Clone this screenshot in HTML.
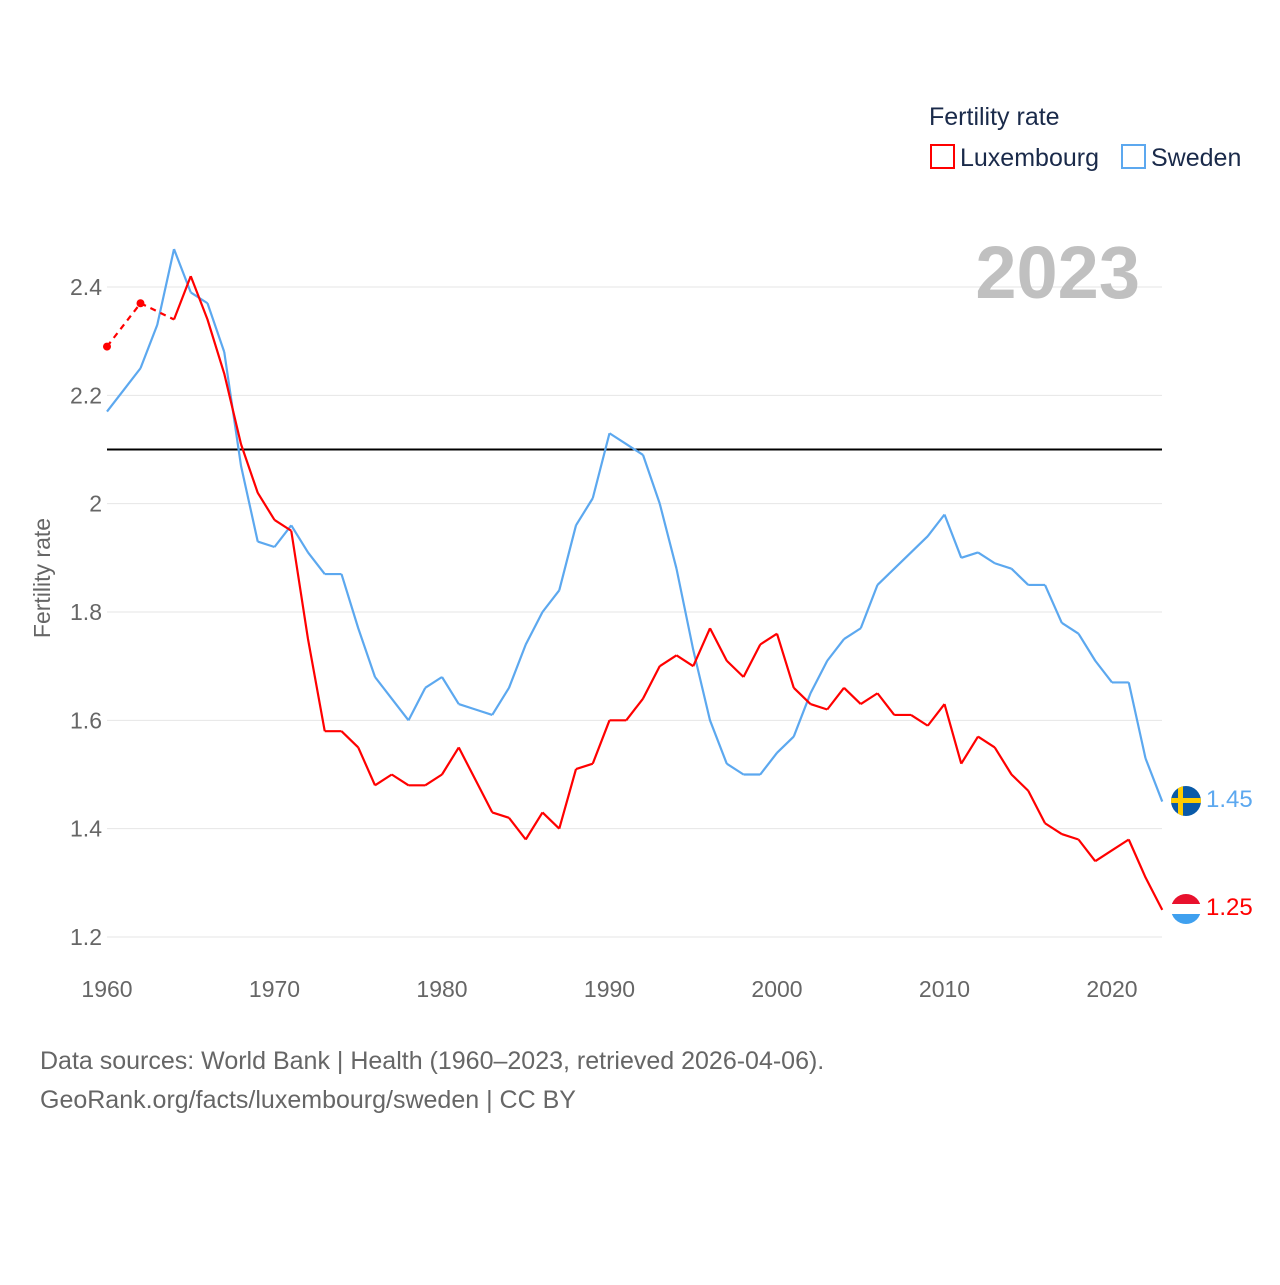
<!DOCTYPE html>
<html><head><meta charset="utf-8"><style>
body{margin:0;background:#fff;font-family:"Liberation Sans",sans-serif}
svg text{font-family:"Liberation Sans",sans-serif}
</style></head><body>
<svg id="chart" width="1280" height="1280" viewBox="0 0 1280 1280" xmlns="http://www.w3.org/2000/svg">
<rect width="1280" height="1280" fill="#fff"/>
<g id="grid"></g>
<text x="1140" y="298" text-anchor="end" font-size="74" font-weight="bold" fill="#c0c0c0">2023</text>
<g id="xticks"></g><g id="yticks"></g>
<text transform="translate(50,578) rotate(-90)" text-anchor="middle" font-size="23" fill="#666">Fertility rate</text>
<line id="ref" x1="107" x2="1162" stroke="#000" stroke-width="2"/>
<g id="series"></g>
<text x="929" y="125" font-size="25" fill="#1a2a4a">Fertility rate</text>
<g><rect x="931" y="145" width="23" height="23" fill="none" stroke="#f00" stroke-width="2"/><text x="960" y="166" font-size="25" fill="#1a2a4a">Luxembourg</text></g>
<g><rect x="1122" y="145" width="23" height="23" fill="none" stroke="#5ca8ef" stroke-width="2"/><text x="1151" y="166" font-size="25" fill="#1a2a4a">Sweden</text></g>
<g><clipPath id="cs"><circle cx="1186" cy="801" r="15"/></clipPath><g clip-path="url(#cs)"><rect x="1171" y="786" width="30" height="30" fill="#0a5aa8"/><rect x="1178" y="786" width="5" height="30" fill="#fc0"/><rect x="1171" y="798" width="30" height="5" fill="#fc0"/></g></g>
<g><clipPath id="cl"><circle cx="1186" cy="909" r="15"/></clipPath><g clip-path="url(#cl)"><rect x="1171" y="894" width="30" height="10" fill="#e8112d"/><rect x="1171" y="904" width="30" height="10" fill="#fff"/><rect x="1171" y="914" width="30" height="10" fill="#3fa0ef"/></g></g>
<text x="1206" y="807" font-size="24" fill="#5ca8ef">1.45</text>
<text x="1206" y="915" font-size="24" fill="#f00">1.25</text>
<text x="40" y="1069" font-size="25" fill="#666">Data sources: World Bank | Health (1960–2023, retrieved 2026-04-06).</text>
<text x="40" y="1108" font-size="25" fill="#666">GeoRank.org/facts/luxembourg/sweden | CC BY</text>
</svg>
<script>
const years=[];for(let y=1960;y<=2023;y++)years.push(y);
const luxembourg=[2.29,null,2.37,null,2.34,2.42,2.34,2.24,2.11,2.02,1.97,1.95,1.75,1.58,1.58,1.55,1.48,1.50,1.48,1.48,1.50,1.55,1.49,1.43,1.42,1.38,1.43,1.40,1.51,1.52,1.60,1.60,1.64,1.70,1.72,1.70,1.77,1.71,1.68,1.74,1.76,1.66,1.63,1.62,1.66,1.63,1.65,1.61,1.61,1.59,1.63,1.52,1.57,1.55,1.50,1.47,1.41,1.39,1.38,1.34,1.36,1.38,1.31,1.25];
const sweden=[2.17,2.21,2.25,2.33,2.47,2.39,2.37,2.28,2.07,1.93,1.92,1.96,1.91,1.87,1.87,1.77,1.68,1.64,1.60,1.66,1.68,1.63,1.62,1.61,1.66,1.74,1.80,1.84,1.96,2.01,2.13,2.11,2.09,2.00,1.88,1.73,1.60,1.52,1.50,1.50,1.54,1.57,1.65,1.71,1.75,1.77,1.85,1.88,1.91,1.94,1.98,1.90,1.91,1.89,1.88,1.85,1.85,1.78,1.76,1.71,1.67,1.67,1.53,1.45];
const yTicks=[1.2,1.4,1.6,1.8,2,2.2,2.4];
const xTicks=[1960,1970,1980,1990,2000,2010,2020];
const refValue=2.1;
const X=y=>107+(y-1960)*16.75;
const Y=v=>937-(v-1.2)*541.67;
const NS="http://www.w3.org/2000/svg";
function mk(tag,attrs,parent){const e=document.createElementNS(NS,tag);for(const k in attrs)e.setAttribute(k,attrs[k]);parent.appendChild(e);return e;}
const grid=document.getElementById('grid'),yt=document.getElementById('yticks'),xt=document.getElementById('xticks');
yTicks.forEach(v=>{
 const l=mk('line',{x1:107,x2:1162,y1:Y(v),y2:Y(v),stroke:'#e6e6e6','stroke-width':1},grid);
 
 
 const t=mk('text',{x:102,y:Y(v)+8,'text-anchor':'end','font-size':23,fill:'#666'},yt);t.textContent=String(v);
 
 
});
xTicks.forEach(v=>{
 const t=mk('text',{x:X(v),y:997,'text-anchor':'middle','font-size':23,fill:'#666'},xt);t.textContent=v;
 
 
});
const ref=document.getElementById('ref');ref.setAttribute('y1',Y(refValue));ref.setAttribute('y2',Y(refValue));
const sg=document.getElementById('series');
function draw(vals,color,name){
 // solid segments between consecutive non-null; dashed across gaps
 let solid='',dashed='';let prev=null;
 vals.forEach((v,i)=>{if(v==null)return;const x=X(years[i]),y=Y(v);
  if(prev){if(prev.i===i-1)solid+=`M${prev.x},${prev.y}L${x},${y}`;else dashed+=`M${prev.x},${prev.y}L${x},${y}`;}
  prev={i,x,y};});
 const p=mk('path',{d:solid,fill:'none',stroke:color,'stroke-width':2.2,'stroke-linejoin':'round'},sg);
 
 
 if(dashed){const d=mk('path',{d:dashed,fill:'none',stroke:color,'stroke-width':2.2,'stroke-dasharray':'6,5'},sg);
 
 }
 vals.forEach((v,i)=>{if(v==null)return;const isolated=(i===0||vals[i-1]==null)&&(i===vals.length-1||vals[i+1]==null);
  if(isolated){const c=mk('circle',{cx:X(years[i]),cy:Y(v),r:4,fill:color},sg);
  
  }});
}
draw(sweden,'#5ca8ef','sweden');
draw(luxembourg,'#f00','luxembourg');
</script>
</body></html>
